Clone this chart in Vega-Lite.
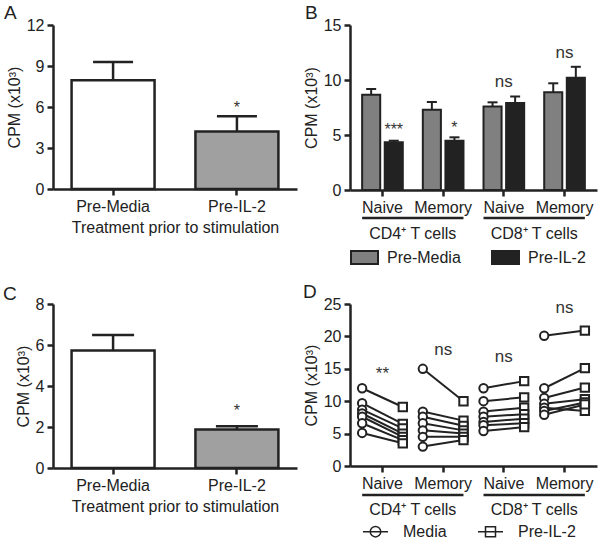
{
"$schema":"https://vega.github.io/schema/vega-lite/v6.json",
"padding":{"left":3,"top":4,"right":4,"bottom":0},
"background":"white",
"config":{
 "font":"Liberation Sans",
 "view":{"stroke":null},
 "axis":{"domainColor":"#222","domainWidth":2.5,"tickColor":"#222","tickWidth":2.5,"tickSize":6,"labelColor":"#222","labelFontSize":16,"labelFont":"Liberation Sans","titleColor":"#222","titleFontSize":16,"titleFontWeight":"normal","titleFont":"Liberation Sans","grid":false,"labelPadding":3,"labelOverlap":false},
 "axisX":{"labelAngle":0,"titleFontSize":16,"titlePadding":5},
 "title":{"fontSize":19,"fontWeight":"normal","anchor":"start","frame":"group","color":"#222","offset":0,"font":"Liberation Sans"},
 "legend":{"labelFontSize":16,"labelColor":"#222","labelFont":"Liberation Sans"}
},
"datasets":{
 "aBars":[{"treatment":"Pre-Media","mean":7.95,"upper":9.3},{"treatment":"Pre-IL-2","mean":4.2,"upper":5.33}],
 "aSig":[{"treatment":"Pre-IL-2","label":"*","y":5.56}],
 "cBars":[{"treatment":"Pre-Media","mean":5.73,"upper":6.49},{"treatment":"Pre-IL-2","mean":1.88,"upper":2.04}],
 "cSig":[{"treatment":"Pre-IL-2","label":"*","y":2.53}],
 "bBars":[
  {"cell":"CD4 Naive","treatment":"Pre-Media","mean":8.67,"upper":9.18},
  {"cell":"CD4 Naive","treatment":"Pre-IL-2","mean":4.33,"upper":4.48},
  {"cell":"CD4 Memory","treatment":"Pre-Media","mean":7.3,"upper":8.0},
  {"cell":"CD4 Memory","treatment":"Pre-IL-2","mean":4.48,"upper":4.79},
  {"cell":"CD8 Naive","treatment":"Pre-Media","mean":7.6,"upper":7.97},
  {"cell":"CD8 Naive","treatment":"Pre-IL-2","mean":7.9,"upper":8.5},
  {"cell":"CD8 Memory","treatment":"Pre-Media","mean":8.88,"upper":9.7},
  {"cell":"CD8 Memory","treatment":"Pre-IL-2","mean":10.2,"upper":11.2}
 ],
 "bStars":[
  {"cell":"CD4 Naive","treatment":"Pre-IL-2","label":"***","y":5.0},
  {"cell":"CD4 Memory","treatment":"Pre-IL-2","label":"*","y":5.2}
 ],
 "bNs":[
  {"cell":"CD8 Naive","label":"ns","y":9.4},
  {"cell":"CD8 Memory","label":"ns","y":12.0}
 ],
 "groups":[
  {"start":"CD4 Naive","end":"CD4 Memory","group":"CD4⁺ T cells"},
  {"start":"CD8 Naive","end":"CD8 Memory","group":"CD8⁺ T cells"}
 ],
 "dSig":[
  {"cell":"CD4 Naive","label":"**","y":13.5},
  {"cell":"CD4 Memory","label":"ns","y":17.1},
  {"cell":"CD8 Naive","label":"ns","y":16.1},
  {"cell":"CD8 Memory","label":"ns","y":23.6}
 ],
 "dPoints":[
  {"cell":"CD4 Naive","donor":1,"treatment":"Media","cpm":12.0},{"cell":"CD4 Naive","donor":1,"treatment":"Pre-IL-2","cpm":9.1},
  {"cell":"CD4 Naive","donor":2,"treatment":"Media","cpm":9.7},{"cell":"CD4 Naive","donor":2,"treatment":"Pre-IL-2","cpm":6.5},
  {"cell":"CD4 Naive","donor":3,"treatment":"Media","cpm":8.7},{"cell":"CD4 Naive","donor":3,"treatment":"Pre-IL-2","cpm":5.8},
  {"cell":"CD4 Naive","donor":4,"treatment":"Media","cpm":8.1},{"cell":"CD4 Naive","donor":4,"treatment":"Pre-IL-2","cpm":5.0},
  {"cell":"CD4 Naive","donor":5,"treatment":"Media","cpm":7.6},{"cell":"CD4 Naive","donor":5,"treatment":"Pre-IL-2","cpm":4.5},
  {"cell":"CD4 Naive","donor":6,"treatment":"Media","cpm":6.6},{"cell":"CD4 Naive","donor":6,"treatment":"Pre-IL-2","cpm":4.0},
  {"cell":"CD4 Naive","donor":7,"treatment":"Media","cpm":5.1},{"cell":"CD4 Naive","donor":7,"treatment":"Pre-IL-2","cpm":3.5},
  {"cell":"CD4 Memory","donor":1,"treatment":"Media","cpm":15.0},{"cell":"CD4 Memory","donor":1,"treatment":"Pre-IL-2","cpm":10.0},
  {"cell":"CD4 Memory","donor":2,"treatment":"Media","cpm":8.4},{"cell":"CD4 Memory","donor":2,"treatment":"Pre-IL-2","cpm":7.0},
  {"cell":"CD4 Memory","donor":3,"treatment":"Media","cpm":7.6},{"cell":"CD4 Memory","donor":3,"treatment":"Pre-IL-2","cpm":6.2},
  {"cell":"CD4 Memory","donor":4,"treatment":"Media","cpm":6.6},{"cell":"CD4 Memory","donor":4,"treatment":"Pre-IL-2","cpm":5.5},
  {"cell":"CD4 Memory","donor":5,"treatment":"Media","cpm":5.5},{"cell":"CD4 Memory","donor":5,"treatment":"Pre-IL-2","cpm":5.0},
  {"cell":"CD4 Memory","donor":6,"treatment":"Media","cpm":4.5},{"cell":"CD4 Memory","donor":6,"treatment":"Pre-IL-2","cpm":4.5},
  {"cell":"CD4 Memory","donor":7,"treatment":"Media","cpm":3.0},{"cell":"CD4 Memory","donor":7,"treatment":"Pre-IL-2","cpm":4.0},
  {"cell":"CD8 Naive","donor":1,"treatment":"Media","cpm":12.0},{"cell":"CD8 Naive","donor":1,"treatment":"Pre-IL-2","cpm":13.1},
  {"cell":"CD8 Naive","donor":2,"treatment":"Media","cpm":10.0},{"cell":"CD8 Naive","donor":2,"treatment":"Pre-IL-2","cpm":10.6},
  {"cell":"CD8 Naive","donor":3,"treatment":"Media","cpm":8.4},{"cell":"CD8 Naive","donor":3,"treatment":"Pre-IL-2","cpm":9.0},
  {"cell":"CD8 Naive","donor":4,"treatment":"Media","cpm":7.6},{"cell":"CD8 Naive","donor":4,"treatment":"Pre-IL-2","cpm":8.0},
  {"cell":"CD8 Naive","donor":5,"treatment":"Media","cpm":6.8},{"cell":"CD8 Naive","donor":5,"treatment":"Pre-IL-2","cpm":7.3},
  {"cell":"CD8 Naive","donor":6,"treatment":"Media","cpm":6.3},{"cell":"CD8 Naive","donor":6,"treatment":"Pre-IL-2","cpm":6.6},
  {"cell":"CD8 Naive","donor":7,"treatment":"Media","cpm":5.4},{"cell":"CD8 Naive","donor":7,"treatment":"Pre-IL-2","cpm":6.0},
  {"cell":"CD8 Memory","donor":1,"treatment":"Media","cpm":20.1},{"cell":"CD8 Memory","donor":1,"treatment":"Pre-IL-2","cpm":20.9},
  {"cell":"CD8 Memory","donor":2,"treatment":"Media","cpm":12.0},{"cell":"CD8 Memory","donor":2,"treatment":"Pre-IL-2","cpm":15.1},
  {"cell":"CD8 Memory","donor":3,"treatment":"Media","cpm":10.5},{"cell":"CD8 Memory","donor":3,"treatment":"Pre-IL-2","cpm":12.1},
  {"cell":"CD8 Memory","donor":4,"treatment":"Media","cpm":9.6},{"cell":"CD8 Memory","donor":4,"treatment":"Pre-IL-2","cpm":10.3},
  {"cell":"CD8 Memory","donor":5,"treatment":"Media","cpm":9.0},{"cell":"CD8 Memory","donor":5,"treatment":"Pre-IL-2","cpm":8.5},
  {"cell":"CD8 Memory","donor":6,"treatment":"Media","cpm":8.5},{"cell":"CD8 Memory","donor":6,"treatment":"Pre-IL-2","cpm":9.8},
  {"cell":"CD8 Memory","donor":7,"treatment":"Media","cpm":7.9},{"cell":"CD8 Memory","donor":7,"treatment":"Pre-IL-2","cpm":9.5}
 ]
},
"columns":2,
"spacing":{"row":114,"column":53},
"bounds":"flush",
"resolve":{"scale":{"x":"independent","y":"independent","xOffset":"independent","fill":"independent","shape":"independent"},"legend":{"fill":"independent","shape":"independent"}},
"concat":[
 {
  "width":244,"height":164,
  "title":{"text":"A","dx":-49,"dy":10},
  "encoding":{"x":{"field":"treatment","type":"nominal","scale":{"domain":["Pre-Media","Pre-IL-2"],"paddingInner":0.33,"paddingOuter":0.15},"axis":{"title":"Treatment prior to stimulation"}}},
  "layer":[
   {"data":{"name":"aBars"},"mark":{"type":"bar","stroke":"#222","strokeWidth":2.5},
    "encoding":{"y":{"field":"mean","type":"quantitative","scale":{"domain":[0,12],"nice":false},"axis":{"values":[0,3,6,9,12],"title":"CPM (x10³)","titleFontSize":16}},
     "fill":{"field":"treatment","type":"nominal","scale":{"domain":["Pre-Media","Pre-IL-2"],"range":["#ffffff","#a0a0a0"]},"legend":null}}},
   {"data":{"name":"aBars"},"mark":{"type":"rule","strokeWidth":2.5,"color":"#222"},
    "encoding":{"y":{"field":"mean","type":"quantitative"},"y2":{"field":"upper"}}},
   {"data":{"name":"aBars"},"mark":{"type":"tick","thickness":2.5,"size":40,"color":"#222","opacity":1},
    "encoding":{"y":{"field":"upper","type":"quantitative"}}},
   {"data":{"name":"aSig"},"mark":{"type":"text","fontSize":16,"color":"#333","baseline":"alphabetic"},
    "encoding":{"y":{"field":"y","type":"quantitative"},"text":{"field":"label"}}}
  ]
 },
 {
  "width":247,"height":165,
  "title":{"text":"B","dx":-45,"dy":10},
  "layer":[
   {"data":{"name":"bBars"},"mark":{"type":"bar","stroke":"#222","strokeWidth":2},
    "encoding":{
     "x":{"field":"cell","type":"nominal","scale":{"domain":["CD4 Naive","CD4 Memory","CD8 Naive","CD8 Memory"],"paddingInner":0.33,"paddingOuter":0.2},"axis":{"title":null,"labelExpr":"split(datum.label,' ')[1]"}},
     "xOffset":{"field":"treatment","type":"nominal","scale":{"domain":["Pre-Media","Pre-IL-2"],"paddingInner":0.2,"paddingOuter":0}},
     "y":{"field":"mean","type":"quantitative","scale":{"domain":[0,15],"nice":false},"axis":{"values":[0,5,10,15],"title":"CPM (x10³)","titleFontSize":16}},
     "fill":{"field":"treatment","type":"nominal","scale":{"domain":["Pre-Media","Pre-IL-2"],"range":["#808080","#222222"]},
      "legend":{"orient":"bottom","direction":"horizontal","title":null,"symbolType":"M-1,-0.48H1V0.48H-1Z","symbolSize":729,"symbolStrokeColor":"#222","symbolStrokeWidth":2,"labelFontSize":16,"labelOffset":8,"columnPadding":27,"offset":28}}}},
   {"data":{"name":"bBars"},"mark":{"type":"rule","strokeWidth":2,"color":"#222"},
    "encoding":{"x":{"field":"cell","type":"nominal"},"xOffset":{"field":"treatment","type":"nominal"},"y":{"field":"mean","type":"quantitative"},"y2":{"field":"upper"}}},
   {"data":{"name":"bBars"},"mark":{"type":"tick","thickness":2,"size":10,"color":"#222","opacity":1},
    "encoding":{"x":{"field":"cell","type":"nominal"},"xOffset":{"field":"treatment","type":"nominal"},"y":{"field":"upper","type":"quantitative"}}},
   {"data":{"name":"bStars"},"mark":{"type":"text","fontSize":16,"color":"#333","baseline":"alphabetic"},
    "encoding":{"x":{"field":"cell","type":"nominal"},"xOffset":{"field":"treatment","type":"nominal"},"y":{"field":"y","type":"quantitative"},"text":{"field":"label"}}},
   {"data":{"name":"bNs"},"mark":{"type":"text","fontSize":17,"color":"#333","baseline":"alphabetic"},
    "encoding":{"x":{"field":"cell","type":"nominal"},"y":{"field":"y","type":"quantitative"},"text":{"field":"label"}}},
   {"data":{"name":"groups"},"mark":{"type":"rule","strokeWidth":2.5,"color":"#222","yOffset":28},
    "encoding":{"x":{"field":"start","type":"nominal","bandPosition":0},"x2":{"field":"end","bandPosition":1},"y":{"datum":0,"type":"quantitative"}}},
   {"data":{"name":"groups"},"mark":{"type":"text","fontSize":16,"color":"#222","baseline":"middle","dy":44,"dx":10},
    "encoding":{"x":{"field":"start","type":"nominal","bandPosition":1},"y":{"datum":0,"type":"quantitative"},"text":{"field":"group"}}}
  ]
 },
 {
  "width":244,"height":164,
  "title":{"text":"C","dx":-50,"dy":12},
  "encoding":{"x":{"field":"treatment","type":"nominal","scale":{"domain":["Pre-Media","Pre-IL-2"],"paddingInner":0.33,"paddingOuter":0.15},"axis":{"title":"Treatment prior to stimulation"}}},
  "layer":[
   {"data":{"name":"cBars"},"mark":{"type":"bar","stroke":"#222","strokeWidth":2.5},
    "encoding":{"y":{"field":"mean","type":"quantitative","scale":{"domain":[0,8],"nice":false},"axis":{"values":[0,2,4,6,8],"title":"CPM (x10³)","titleFontSize":16}},
     "fill":{"field":"treatment","type":"nominal","scale":{"domain":["Pre-Media","Pre-IL-2"],"range":["#ffffff","#a0a0a0"]},"legend":null}}},
   {"data":{"name":"cBars"},"mark":{"type":"rule","strokeWidth":2.5,"color":"#222"},
    "encoding":{"y":{"field":"mean","type":"quantitative"},"y2":{"field":"upper"}}},
   {"data":{"name":"cBars"},"mark":{"type":"tick","thickness":2.5,"size":42,"color":"#222","opacity":1},
    "encoding":{"y":{"field":"upper","type":"quantitative"}}},
   {"data":{"name":"cSig"},"mark":{"type":"text","fontSize":16,"color":"#333","baseline":"alphabetic"},
    "encoding":{"y":{"field":"y","type":"quantitative"},"text":{"field":"label"}}}
  ]
 },
 {
  "width":247,"height":162,
  "title":{"text":"D","dx":-47,"dy":10},
  "layer":[
   {"data":{"name":"dPoints"},"mark":{"type":"line","strokeWidth":2,"color":"#222"},
    "encoding":{
     "x":{"field":"cell","type":"nominal","scale":{"domain":["CD4 Naive","CD4 Memory","CD8 Naive","CD8 Memory"],"paddingInner":0.33,"paddingOuter":0.2},"axis":{"title":null,"labelExpr":"split(datum.label,' ')[1]"}},
     "xOffset":{"field":"treatment","type":"nominal","scale":{"domain":["Media","Pre-IL-2"],"paddingInner":0.2,"paddingOuter":0}},
     "y":{"field":"cpm","type":"quantitative","scale":{"domain":[0,25],"nice":false},"axis":{"values":[0,5,10,15,20,25],"tickCount":6,"title":"CPM (x10³)","titleFontSize":16}},
     "detail":[{"field":"cell","type":"nominal"},{"field":"donor","type":"nominal"}],
     "order":{"field":"treatment"}}},
   {"data":{"name":"dPoints"},"transform":[{"filter":"datum.treatment === 'Media'"}],
    "mark":{"type":"point","shape":"circle","filled":true,"stroke":"#222","strokeWidth":2,"size":70,"opacity":1},
    "encoding":{
     "x":{"field":"cell","type":"nominal"},
     "xOffset":{"field":"treatment","type":"nominal"},
     "y":{"field":"cpm","type":"quantitative","axis":{"values":[0,5,10,15,20,25],"tickCount":6,"title":"CPM (x10³)","titleFontSize":16}},
     "fill":{"field":"treatment","type":"nominal","scale":{"domain":["Media","Pre-IL-2"],"range":["#ffffff","#ffffff"]},
      "legend":{"orient":"bottom","direction":"horizontal","title":null,"padding":12,"symbolSize":625,"labelFontSize":16,"labelOffset":14,"columnPadding":28,"offset":15,
       "symbolType":{"expr":"datum.value === 'Media' ? 'M-1,0H1M0.42,0A0.42,0.42 0 1,1 -0.42,0A0.42,0.42 0 1,1 0.42,0' : 'M-1,0H1M-0.4,-0.4H0.4V0.4H-0.4Z'"},
       "encode":{"symbols":{"update":{
         "stroke":{"value":"#222"},"strokeWidth":{"value":2},"fill":{"value":"transparent"},"opacity":{"value":1},"strokeOpacity":{"value":1},"fillOpacity":{"value":1}}}}}}}},
   {"data":{"name":"dPoints"},"transform":[{"filter":"datum.treatment === 'Pre-IL-2'"}],
    "mark":{"type":"point","shape":"square","filled":true,"stroke":"#222","strokeWidth":2,"size":70,"opacity":1},
    "encoding":{
     "x":{"field":"cell","type":"nominal"},
     "xOffset":{"field":"treatment","type":"nominal"},
     "y":{"field":"cpm","type":"quantitative","axis":{"values":[0,5,10,15,20,25],"tickCount":6,"title":"CPM (x10³)","titleFontSize":16}},
     "fill":{"field":"treatment","type":"nominal"}}},
   {"data":{"name":"dSig"},"mark":{"type":"text","fontSize":17,"color":"#333","baseline":"alphabetic"},
    "encoding":{"x":{"field":"cell","type":"nominal"},"y":{"field":"y","type":"quantitative","axis":{"values":[0,5,10,15,20,25],"tickCount":6,"title":"CPM (x10³)","titleFontSize":16}},"text":{"field":"label"}}},
   {"data":{"name":"groups"},"mark":{"type":"rule","strokeWidth":2.5,"color":"#222","yOffset":29},
    "encoding":{"x":{"field":"start","type":"nominal","bandPosition":0},"x2":{"field":"end","bandPosition":1},"y":{"datum":0,"type":"quantitative"}}},
   {"data":{"name":"groups"},"mark":{"type":"text","fontSize":16,"color":"#222","baseline":"middle","dy":44,"dx":10},
    "encoding":{"x":{"field":"start","type":"nominal","bandPosition":1},"y":{"datum":0,"type":"quantitative"},"text":{"field":"group"}}}
  ]
 }
]
}
